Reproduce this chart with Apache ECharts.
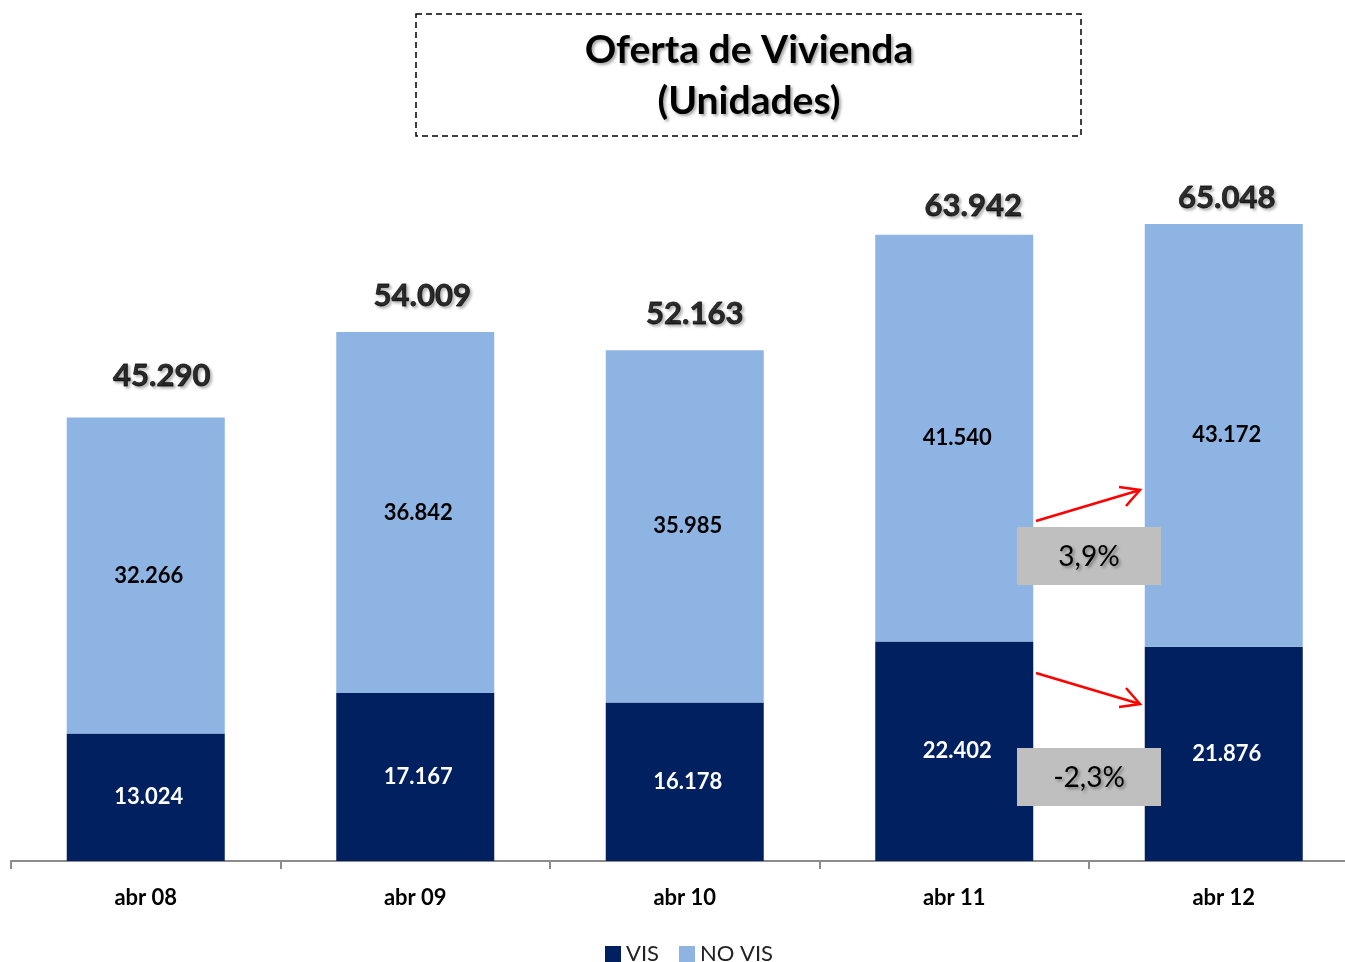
<!DOCTYPE html>
<html>
<head>
<meta charset="utf-8">
<title>Oferta de Vivienda</title>
<script src="https://cdn.jsdelivr.net/npm/echarts@6/dist/echarts.min.js"></script>
<style>
  html, body { margin: 0; padding: 0; background: #fff; overflow: hidden; }
  #chart { width: 1360px; height: 962px; }
</style>
</head>
<body>
<div id="chart"></div>
<script>
// datos (unidades)
const categories = ['abr 08', 'abr 09', 'abr 10', 'abr 11', 'abr 12'];
const vis = [13024, 17167, 16178, 22402, 21876];
const noVis = [32266, 36842, 35985, 41540, 43172];
const totals = [45290, 54009, 52163, 63942, 65048];
const changeLabels = ['3,9%', '-2,3%'];

// desplazamiento de las etiquetas de total (solo estilo)
const totalShift = [[16, -26], [7, -21], [10, -21], [19, -13], [3, -10]];

const FONT = 'Lato, "Open Sans", sans-serif';
const DARK = '#002060';
const LIGHT = '#8EB4E3';

const fmt = v => String(v).replace(/\B(?=(\d{3})+(?!\d))/g, '.');

const chart = echarts.init(document.getElementById('chart'));

const shadow = {
  textShadowColor: 'rgba(0,0,0,0.35)',
  textShadowBlur: 3,
  textShadowOffsetX: 2,
  textShadowOffsetY: 2
};

const option = {
  animation: false,
  textStyle: { fontFamily: FONT },
  title: {
    text: 'Oferta de Vivienda\n(Unidades)',
    left: 744,
    textAlign: 'center',
    top: 20,
    textStyle: Object.assign({
      fontFamily: FONT,
      fontSize: 39,
      fontWeight: 'bold',
      color: '#000',
      lineHeight: 51
    }, shadow)
  },
  legend: {
    data: ['VIS', 'NO VIS'],
    left: 600,
    top: 938,
    itemWidth: 16,
    itemHeight: 16,
    itemGap: 20,
    icon: 'rect',
    textStyle: { fontSize: 22, color: '#222', fontFamily: FONT }
  },
  grid: { left: 11, right: 1.5, top: 175.5, bottom: 101, containLabel: false },
  xAxis: {
    type: 'category',
    data: categories,
    axisLine: { lineStyle: { color: '#8c8c8c', width: 2 } },
    axisTick: { show: true, length: 8, lineStyle: { color: '#8c8c8c', width: 2 } },
    axisLabel: { fontSize: 22, fontWeight: 'bold', color: '#000', margin: 26, fontFamily: FONT }
  },
  yAxis: {
    type: 'value',
    min: 0,
    max: 70000,
    show: false,
    splitLine: { show: false }
  },
  series: [
    {
      name: 'VIS',
      type: 'bar',
      stack: 'total',
      barWidth: 158,
      data: vis,
      itemStyle: { color: DARK },
      label: {
        show: true,
        position: 'inside',
        offset: [3, 0],
        formatter: p => fmt(p.value),
        fontSize: 22,
        fontWeight: 'bold',
        color: '#fff',
        fontFamily: FONT
      }
    },
    {
      name: 'NO VIS',
      type: 'bar',
      stack: 'total',
      barWidth: 158,
      data: noVis,
      itemStyle: { color: LIGHT },
      label: {
        show: true,
        position: 'inside',
        offset: [3, 0],
        formatter: p => fmt(p.value),
        fontSize: 22,
        fontWeight: 'bold',
        color: '#000',
        fontFamily: FONT
      }
    },
    {
      name: 'Total',
      type: 'scatter',
      symbolSize: 0,
      silent: true,
      data: totals.map((v, i) => ({
        value: v,
        label: { offset: totalShift[i] }
      })),
      label: Object.assign({
        show: true,
        position: 'top',
        distance: 0,
        formatter: p => fmt(p.value),
        fontSize: 31,
        fontWeight: 'bold',
        color: '#000',
        textBorderColor: '#000',
        textBorderWidth: 0.8,
        fontFamily: FONT
      }, shadow)
    }
  ],
  graphic: [
    // recuadro del título
    {
      type: 'rect',
      z: 100,
      shape: { x: 416, y: 14, width: 665, height: 122 },
      style: { fill: 'none', stroke: '#000', lineWidth: 1.5, lineDash: [6, 4] }
    },
    // flechas
    {
      type: 'polyline',
      z: 100,
      shape: { points: [[1036, 521], [1140, 490]] },
      style: { stroke: '#ff0000', lineWidth: 2.5, fill: 'none' }
    },
    {
      type: 'polyline',
      z: 100,
      shape: { points: [[1119, 487], [1140, 490], [1126, 506]] },
      style: { stroke: '#ff0000', lineWidth: 2.5, fill: 'none' }
    },
    {
      type: 'polyline',
      z: 100,
      shape: { points: [[1036, 673], [1140, 704]] },
      style: { stroke: '#ff0000', lineWidth: 2.5, fill: 'none' }
    },
    {
      type: 'polyline',
      z: 100,
      shape: { points: [[1126, 688], [1140, 704], [1119, 707]] },
      style: { stroke: '#ff0000', lineWidth: 2.5, fill: 'none' }
    },
    // cajas de variación
    {
      type: 'rect',
      z: 100,
      shape: { x: 1017, y: 527, width: 144, height: 58 },
      style: { fill: '#bfbfbf' }
    },
    {
      type: 'text',
      z: 101,
      x: 1089, y: 557,
      style: Object.assign({
        text: changeLabels[0], font: '28px ' + FONT, fill: '#000',
        align: 'center', verticalAlign: 'middle'
      }, shadow)
    },
    {
      type: 'rect',
      z: 100,
      shape: { x: 1017, y: 748, width: 144, height: 58 },
      style: { fill: '#bfbfbf' }
    },
    {
      type: 'text',
      z: 101,
      x: 1089, y: 778,
      style: Object.assign({
        text: changeLabels[1], font: '28px ' + FONT, fill: '#000',
        align: 'center', verticalAlign: 'middle'
      }, shadow)
    }
  ]
};

chart.setOption(option);
</script>
</body>
</html>
